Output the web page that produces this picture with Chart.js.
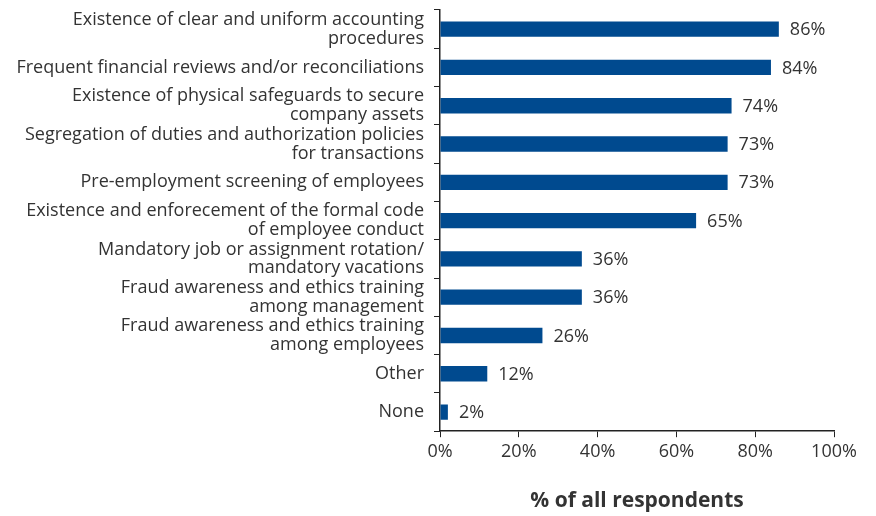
<!DOCTYPE html>
<html>
<head>
<meta charset="utf-8">
<script src="https://cdn.jsdelivr.net/npm/chart.js@4.4.0/dist/chart.umd.min.js"></script>
<style>
    html, body { margin: 0; padding: 0; background: #fff; }
    #wrap { width: 876px; height: 516px; }
</style>
</head>
<body>
<div id="wrap"><canvas id="controlsChart"></canvas></div>
<script>
// Anti-fraud controls in place, share of respondents
const categories = [
    ['Existence of clear and uniform accounting', 'procedures'],
    'Frequent financial reviews and/or reconciliations',
    ['Existence of physical safeguards to secure', 'company assets'],
    ['Segregation of duties and authorization policies', 'for transactions'],
    'Pre-employment screening of employees',
    ['Existence and enforecement of the formal code', 'of employee conduct'],
    ['Mandatory job or assignment rotation/', 'mandatory vacations'],
    ['Fraud awareness and ethics training', 'among management'],
    ['Fraud awareness and ethics training', 'among employees'],
    'Other',
    'None'
];
const percentages = [86, 84, 74, 73, 73, 65, 36, 36, 26, 12, 2];
const xTicks = [0, 20, 40, 60, 80, 100];

const textColor = '#333333';
const fontFamily = '"Open Sans", Lato, sans-serif';

// Writes the percentage next to the end of each bar
const valueLabels = {
    id: 'valueLabels',
    afterDatasetsDraw(chart) {
        const ctx = chart.ctx;
        const meta = chart.getDatasetMeta(0);
        ctx.save();
        ctx.font = '18px ' + fontFamily;
        ctx.fillStyle = textColor;
        ctx.textAlign = 'left';
        ctx.textBaseline = 'middle';
        meta.data.forEach(function(bar, i) {
            ctx.fillText(percentages[i] + '%', bar.x + 11, bar.y + 1);
        });
        ctx.restore();
    }
};

document.addEventListener('DOMContentLoaded', function() {
    const ctx = document.getElementById('controlsChart');
    new Chart(ctx, {
        type: 'bar',
        data: {
            labels: categories,
            datasets: [{
                data: percentages,
                backgroundColor: '#004a8f',
                borderWidth: 0,
                barPercentage: 0.8,
                categoryPercentage: 0.5
            }]
        },
        plugins: [valueLabels],
        options: {
            indexAxis: 'y',
            responsive: true,
            maintainAspectRatio: false,
            animation: false,
            layout: {
                padding: { top: 0, right: 42, bottom: 2, left: 0 }
            },
            plugins: {
                legend: { display: false },
                tooltip: { enabled: false }
            },
            scales: {
                x: {
                    min: 0,
                    max: 100,
                    afterBuildTicks: function(axis) {
                        axis.ticks = xTicks.map(function(v) { return { value: v }; });
                    },
                    grid: {
                        drawOnChartArea: false,
                        drawTicks: true,
                        tickLength: 6,
                        color: '#222'
                    },
                    border: { color: '#222', width: 1.5 },
                    ticks: {
                        color: textColor,
                        padding: 4,
                        font: { family: fontFamily, size: 18 },
                        callback: function(value) {
                            return value + '%';
                        }
                    },
                    title: {
                        display: true,
                        text: '% of all respondents',
                        color: textColor,
                        padding: { top: 22, bottom: 0 },
                        font: { family: fontFamily, size: 21, weight: 'bold' }
                    }
                },
                y: {
                    afterFit: function(axis) {
                        axis.width = 440;
                        axis.paddingTop = 10;
                        axis.paddingBottom = 0;
                    },
                    grid: {
                        offset: true,
                        drawOnChartArea: false,
                        drawTicks: true,
                        tickLength: 6,
                        color: '#222'
                    },
                    border: { color: '#222', width: 1.5 },
                    ticks: {
                        autoSkip: false,
                        color: textColor,
                        padding: 10,
                        font: { family: fontFamily, size: 18, lineHeight: 1.05 }
                    }
                }
            }
        }
    });
});
</script>
</body>
</html>
